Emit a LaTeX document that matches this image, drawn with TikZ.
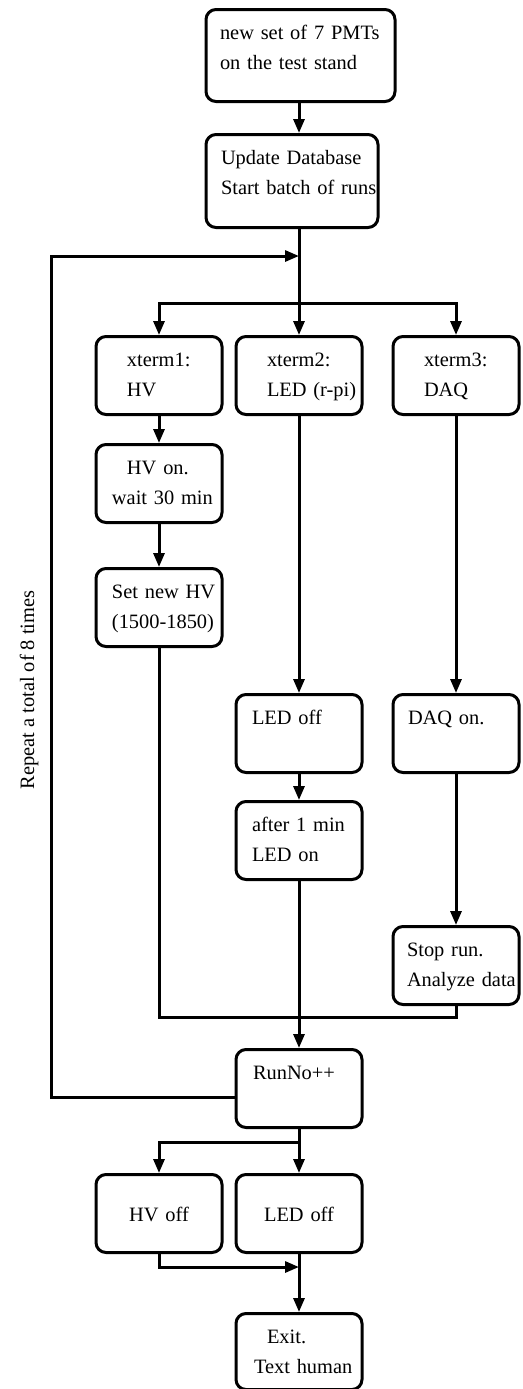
\documentclass[tikz,border=0pt]{standalone}
\usepackage{fontspec}
\setmainfont{Liberation Serif}
\usetikzlibrary{arrows.meta}

\begin{document}
\begin{tikzpicture}[x=0.5pt, y=-0.5pt,
    stage/.style={draw, line width=1.5pt, rounded corners=5pt, anchor=north,
        text width=63pt, inner sep=0pt, align=left,
        text height=15pt, text depth=24pt,
        font=\fontsize{10.2}{15}\selectfont},
    inset/.style={execute at begin node={\leftskip=#1\relax}},
    inset/.default=8pt,
    flow/.style={line width=1.5pt, -{Triangle[length=7pt,width=5.5pt]}},
    wire/.style={line width=1.5pt}]
    \useasboundingbox (0,0) rectangle (523,1389);

    % Start of a batch
    \node[stage, inset=7pt, text width=94.5pt, text depth=31pt] (pmts) at (300.5,8)
        {new set of 7 PMTs\\on the test stand};
    \node[stage, inset=7.5pt, text width=86pt, text depth=31.5pt] (db) at (292,133)
        {Update Database\\Start batch of runs};

    % Points where the lines meet
    \coordinate (loopin) at (299,256);
    \coordinate (corner) at (51,256);
    \coordinate (fork) at (299,303);
    \coordinate (join) at (299,1017);
    \coordinate (split) at (299,1142);
    \coordinate (meet) at (299,1267);

    % Three terminals
    \node[stage, inset=15.5pt] (hv) at (159,335) {xterm1:\\HV};
    \node[stage, inset=15.5pt] (led) at (299,335) {xterm2:\\LED (r-pi)};
    \node[stage, inset=15.5pt] (daq) at (456,335) {xterm3:\\DAQ};

    % xterm1: HV
    \node[stage, inset] (hvon) at (159,443) {\hspace*{7.5pt}HV on.\\wait 30 min};
    \node[stage, inset] (hvset) at (159,567) {Set new HV\\(1500-1850)};

    % xterm2: LED
    \node[stage, inset] (ledoff) at (299,693) {LED off};
    \node[stage, inset] (after) at (299,800) {after 1 min\\LED on};

    % xterm3: DAQ
    \node[stage, inset=7.5pt] (daqon) at (456,693) {DAQ on.};
    \node[stage, inset=7pt] (stop) at (456,925) {Stop run.\\Analyze data};

    % Next run
    \node[stage, inset=8.5pt] (runno) at (299,1048) {RunNo++};
    \node[rotate=90, font=\fontsize{10.2}{12}\selectfont] (repeat) at (29,690)
        {Repeat a total of 8 times};

    % End of the batch
    \node[stage, align=center, text height=23.5pt, text depth=15.5pt] (hvoff) at (159,1173) {HV off};
    \node[stage, align=center, text height=23.5pt, text depth=15.5pt] (ledend) at (299,1173) {LED off};
    \node[stage, inset=9pt, text depth=23pt] (exit) at (299,1312)
        {\hspace*{6.5pt}Exit.\\Text human};

    % Connectors
    \draw[flow] (pmts.south -| fork) -- (db.north -| fork);
    \draw[wire] (db.south -| fork) -- (fork);
    \foreach \col in {hv,led,daq}
        \draw[flow] (fork) -| (\col.north);
    \foreach \a/\b in {hv/hvon, hvon/hvset, led/ledoff, ledoff/after, after/runno,
                       daq/daqon, daqon/stop, ledend/exit}
        \draw[flow] (\a.south) -- (\b.north);
    \draw[wire] (hvset.south) |- (join);
    \draw[wire] (stop.south) |- (join);
    \draw[flow] ([yshift=-4.5pt]runno.west) -| (corner) -- (loopin);
    \draw[wire] (runno.south) -- (split);
    \draw[flow] (split) -| (hvoff.north);
    \draw[flow] (split) -- (ledend.north);
    \draw[flow] (hvoff.south) |- (meet);

\end{tikzpicture}
\end{document}
